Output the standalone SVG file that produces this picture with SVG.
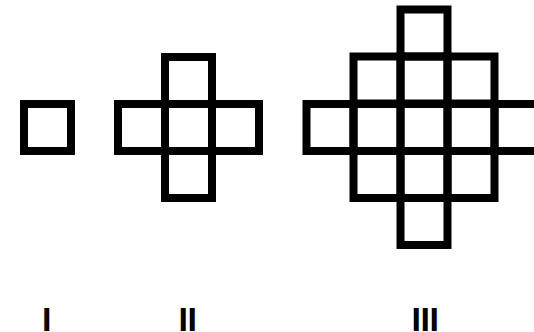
<svg xmlns="http://www.w3.org/2000/svg" width="534" height="332" viewBox="0 0 534 332">
<style>
rect.c{fill:none;stroke:#000;stroke-width:8}
text{font-family:"Liberation Sans",Arial,sans-serif;font-weight:bold;font-size:34px;letter-spacing:-0.5px;fill:#000}
</style>
<defs>
<rect id="sq" class="c" width="47" height="47"/>
</defs>
<rect width="534" height="332" fill="#fff"/>
<g id="fig1">
<use href="#sq" x="24" y="104"/>
</g>
<g id="fig2">
<use href="#sq" x="165" y="57"/>
<use href="#sq" x="118" y="104"/>
<use href="#sq" x="165" y="104"/>
<use href="#sq" x="212" y="104"/>
<use href="#sq" x="165" y="151"/>
</g>
<g id="fig3">
<use href="#sq" x="400.5" y="9.5"/>
<use href="#sq" x="353.5" y="56.5"/>
<use href="#sq" x="400.5" y="56.5"/>
<use href="#sq" x="447.5" y="56.5"/>
<use href="#sq" x="306.5" y="104"/>
<use href="#sq" x="353.5" y="104"/>
<use href="#sq" x="400.5" y="104"/>
<use href="#sq" x="447.5" y="104"/>
<use href="#sq" x="494.5" y="104"/>
<use href="#sq" x="353.5" y="151"/>
<use href="#sq" x="400.5" y="151"/>
<use href="#sq" x="447.5" y="151"/>
<use href="#sq" x="400.5" y="198"/>
</g>
<g id="labels">
<text x="41.9" y="331">I</text>
<text x="178.6" y="331">II</text>
<text x="411.6" y="331">III</text>
</g>
</svg>
